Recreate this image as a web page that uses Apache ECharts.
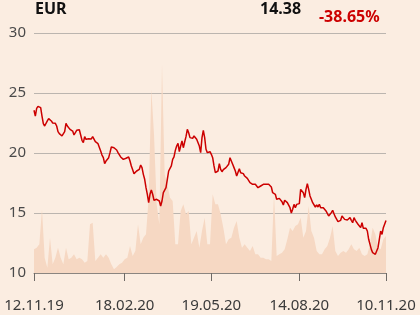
<!DOCTYPE html>
<html>
<head>
<meta charset="utf-8">
<script src="https://cdn.jsdelivr.net/npm/echarts@6/dist/echarts.min.js"></script>
<style>html,body{margin:0;padding:0;background:#fbede1;}#c{width:420px;height:315px;}</style>
</head>
<body>
<div id="c"></div>
<script>
// Price (EUR), one value per trading step
const prices = [
23.56,23.08,23.72,23.89,23.92,23.78,23.08,22.44,22.25,22.39,22.67,22.86,22.78,22.67,22.50,22.53,22.47,22.25,21.78,21.61,
21.69,21.42,21.56,21.78,22.47,22.25,22.14,21.97,21.86,21.83,21.50,21.61,21.89,21.97,21.94,21.50,21.06,20.86,21.36,21.14,
21.08,21.19,21.33,21.17,21.36,21.33,20.94,21.00,20.78,20.72,20.17,19.83,19.61,19.11,19.33,19.47,19.61,20.03,20.50,20.44,
20.44,20.31,20.25,20.03,20.03,19.67,19.75,19.47,19.39,19.56,19.67,19.67,19.33,18.92,18.61,18.28,18.22,18.50,18.56,18.64,
19.00,18.78,18.22,17.81,17.11,16.56,15.86,16.56,16.92,16.56,16.06,16.00,16.14,16.06,16.00,15.58,16.00,16.69,16.83,17.11,
17.81,18.50,18.36,18.92,19.47,19.67,20.22,20.58,20.81,20.11,20.58,21.00,20.44,20.92,21.36,21.97,21.69,21.28,21.14,21.22,
21.42,21.28,21.14,21.00,20.58,20.03,21.28,21.89,21.28,20.31,20.03,20.17,20.11,19.89,19.61,18.92,18.36,18.36,18.50,19.11,
18.64,18.44,18.61,18.69,18.78,18.92,19.06,19.61,19.47,19.06,18.78,18.50,18.08,18.17,18.69,18.36,18.50,18.28,18.08,18.22,
17.89,17.81,17.53,17.39,17.39,17.44,17.39,17.44,17.11,17.11,17.25,17.22,17.39,17.50,17.39,17.44,17.39,17.31,17.17,16.69,
16.61,16.56,16.14,16.06,16.22,16.06,15.94,15.67,16.06,16.14,15.86,15.72,15.44,15.00,15.31,15.72,15.44,15.72,15.78,15.78,
16.97,16.83,16.69,16.28,16.97,17.44,16.97,16.42,16.14,15.86,15.72,15.50,15.67,15.50,15.72,15.44,15.58,15.44,15.31,15.17,
15.11,14.75,14.89,15.03,15.22,14.94,14.67,14.56,14.28,14.33,14.39,14.75,14.67,14.47,14.33,14.42,14.33,14.61,14.39,14.19,
14.61,14.39,14.33,14.06,13.92,13.78,14.19,13.72,13.72,13.72,13.50,12.81,12.39,11.97,11.69,11.56,11.56,11.69,12.11,12.81,
13.50,13.22,13.78,13.92,14.38
];
// Traded volume (relative units), sampled every second trading step
const volume = [
1.97,2.11,2.39,5.31,1.28,0.44,2.94,0.72,1.28,2.11,1.28,0.72,2.11,1.14,1.28,1.56,1.14,1.28,1.14,0.86,
1.00,4.06,4.19,1.00,1.28,1.56,1.28,1.56,1.28,0.72,0.31,0.50,0.72,0.86,1.14,1.28,2.25,1.42,1.83,4.06,
2.39,2.94,3.22,6.28,15.31,11.56,5.72,4.06,17.39,8.22,7.39,6.28,6.00,2.39,2.39,5.17,5.72,4.89,5.17,2.39,
2.94,3.50,2.11,3.50,4.61,2.39,2.39,6.56,5.72,5.72,4.89,3.78,2.39,2.81,2.94,3.78,4.33,2.94,2.11,2.39,
2.11,1.83,2.25,1.56,1.56,1.28,1.28,1.14,1.14,1.00,6.56,1.42,1.56,1.69,1.97,2.81,3.78,3.50,3.92,4.06,
4.61,2.94,3.50,5.58,3.50,2.94,1.83,1.56,1.56,1.97,2.25,2.94,3.92,1.83,1.42,1.69,1.83,1.69,1.97,2.39,
1.97,1.83,2.11,1.56,1.42,1.56,2.39,3.78,3.22,2.11,1.97,2.81,3.08
];
const tickIndex = [0, 68, 133, 199, 264];
const tickLabels = ['12.11.19', '18.02.20', '19.05.20', '14.08.20', '10.11.20'];
const yTicks = [10, 15, 20, 25, 30];
const currency = 'EUR';
const lastPrice = '14.38';
const changePct = '-38.65%';

const FONT = 'Noto Sans';
const cats = prices.map((_, i) => i);
const vcats = volume.map((_, i) => i);
const isTick = (i) => tickIndex.indexOf(i) >= 0;

const chart = echarts.init(document.getElementById('c'), null, {renderer: 'canvas'});
chart.setOption({
  backgroundColor: '#fbede1',
  animation: false,
  title: [
    {text: currency, left: 35, top: 1, padding: 0, textStyle: {fontFamily: FONT, fontSize: 16, fontWeight: 'bold', color: '#111'}},
    {text: lastPrice, left: 260, top: 1, padding: 0, textStyle: {fontFamily: FONT, fontSize: 16, fontWeight: 'bold', color: '#111'}},
    {text: changePct, left: 319, top: 9, padding: 0, textStyle: {fontFamily: FONT, fontSize: 16, fontWeight: 'bold', color: '#cc0000'}}
  ],
  grid: {left: 34, right: 34, top: 33, bottom: 42, containLabel: false},
  xAxis: [
    {
      type: 'category', data: cats, boundaryGap: false,
      axisLine: {show: true, lineStyle: {color: '#8a8580', width: 1}},
      axisTick: {show: true, length: 8, interval: (i) => isTick(i), lineStyle: {color: '#6e6a66'}},
      axisLabel: {
        interval: (i) => isTick(i), margin: 25,
        formatter: (v, i) => { const k = tickIndex.indexOf(Number(v)); return k >= 0 ? tickLabels[k] : ''; },
        fontFamily: FONT, fontSize: 15, color: '#3a3a3a'
      },
      splitLine: {show: false}
    },
    {type: 'category', data: vcats, boundaryGap: false, show: false}
  ],
  yAxis: [
    {
      type: 'value', min: yTicks[0], max: yTicks[yTicks.length - 1], interval: 5,
      axisLine: {show: false}, axisTick: {show: false},
      axisLabel: {fontFamily: FONT, fontSize: 15, color: '#4a4a4a', margin: 8},
      splitLine: {show: true, lineStyle: {color: '#bbb5af', width: 1}}
    },
    {type: 'value', min: 0, max: 20, show: false}
  ],
  series: [
    {
      type: 'line', xAxisIndex: 1, yAxisIndex: 1, data: volume, symbol: 'none',
      lineStyle: {width: 0}, areaStyle: {color: '#f6d8c3', opacity: 1}, z: 1, silent: true
    },
    {
      type: 'line', xAxisIndex: 0, yAxisIndex: 0, data: prices, symbol: 'none',
      lineStyle: {color: '#cc0000', width: 1.5}, z: 3, silent: true
    }
  ]
});
</script>
</body>
</html>
